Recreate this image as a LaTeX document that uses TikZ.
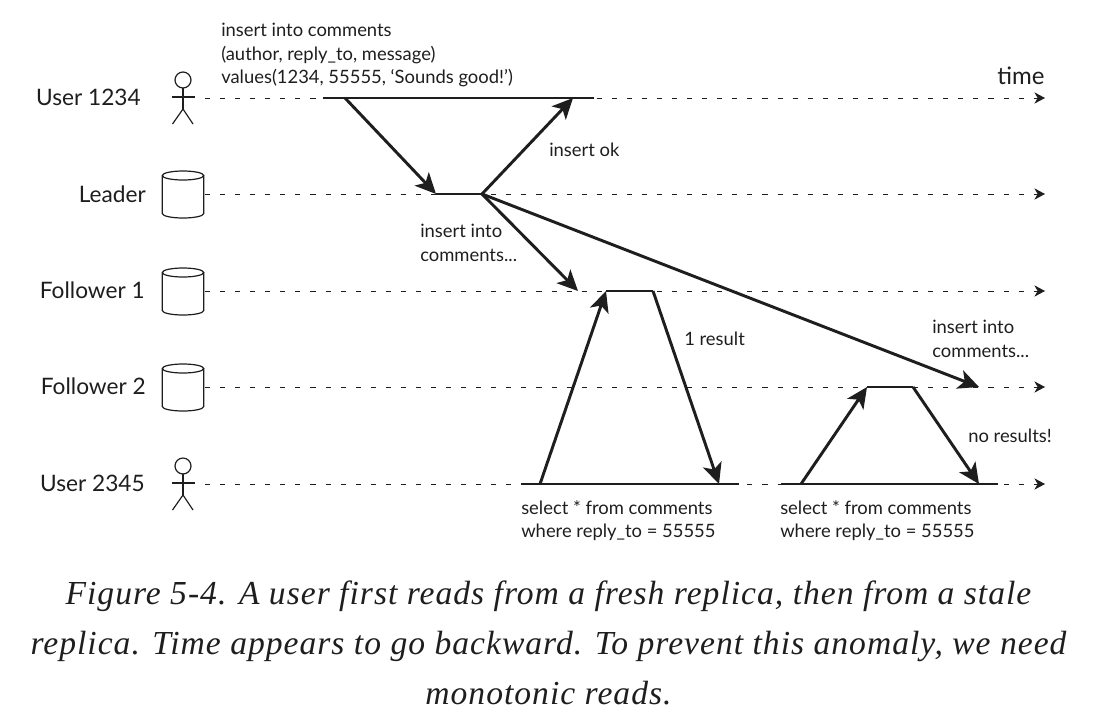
\documentclass[tikz,border=0pt]{standalone}
\usepackage{fontspec}
\setmainfont{Lato}
\newfontfamily\captionfont{Liberation Serif}[LetterSpace=3]
\usetikzlibrary{arrows.meta}
\definecolor{inkBlack}{HTML}{1E1E1E}

\begin{document}
\begin{tikzpicture}[
  x=0.75pt, y=-0.75pt,
  color=inkBlack,
  rowLabel/.style={anchor=east, inner sep=0pt, font=\fontsize{17}{20}\selectfont},
  noteText/.style={anchor=north west, align=left, inner sep=0pt, font=\fontsize{13.8}{17.5}\selectfont},
  timeLine/.style={line width=0.7pt, dash pattern=on 3.8pt off 7.5pt, -{Stealth[length=8pt,width=8.5pt,inset=2.5pt]}},
  busyBar/.style={line width=2.2pt},
  msgArrow/.style={line width=2.2pt, -{Stealth[length=15.5pt,width=14.5pt,inset=4pt]}},
  stickMan/.pic={
    \draw[line width=0.9pt] (0,-18) circle [radius=8];
    \draw[line width=0.9pt] (0,-10) -- (0,11) (-11.5,-1) -- (11.5,-1);
    \draw[line width=0.9pt] (-10.5,26) -- (0,11) -- (10,26);
  },
  dbCylinder/.pic={
    \draw[line width=0.9pt] (-20.75,-18.5) arc [start angle=180, end angle=-180, x radius=20.75, y radius=4.5]
      -- (-20.75,19.5) arc [start angle=180, end angle=360, x radius=20.75, y radius=-4.5]
      -- (20.75,-18.5);
  }
]
\useasboundingbox (0,0) rectangle (1112,722);

% rows
\node[rowLabel] (labelUserA) at (141,97) {User 1234};
\node[rowLabel] (labelLeader) at (146,194) {Leader};
\node[rowLabel] (labelFollowerA) at (145,290) {Follower 1};
\node[rowLabel] (labelFollowerB) at (146,386) {Follower 2};
\node[rowLabel] (labelUserB) at (145,483) {User 2345};

\pic at (183,98) {stickMan};
\pic at (183,484) {stickMan};
\pic at (183,194) {dbCylinder};
\pic at (183,291) {dbCylinder};
\pic at (183,387) {dbCylinder};

\foreach \rowName/\rowY in {userA/98, lead/194, follA/291, follB/387, userB/484} {
  \coordinate (\rowName Start) at (205,\rowY);
  \coordinate (\rowName End) at (1045,\rowY);
  \draw[timeLine] (\rowName Start) -- (\rowName End);
}

% busy bars
\coordinate (writeStart) at (323,98);
\coordinate (writeEnd) at (594,98);
\coordinate (writeSend) at (345,98);
\coordinate (writeAck) at (573,98);
\coordinate (leadIn) at (436,194);
\coordinate (leadOut) at (482,194);
\coordinate (follAIn) at (606,291);
\coordinate (follAOut) at (653,291);
\coordinate (follALate) at (578,291);
\coordinate (follBIn) at (867,387);
\coordinate (follBOut) at (913,387);
\coordinate (follBLate) at (979,387);
\coordinate (readOneStart) at (521,484);
\coordinate (readOneEnd) at (739,484);
\coordinate (readOneSend) at (540,484);
\coordinate (readOneBack) at (719,484);
\coordinate (readTwoStart) at (781,484);
\coordinate (readTwoEnd) at (998,484);
\coordinate (readTwoSend) at (801,484);
\coordinate (readTwoBack) at (979,484);

\draw[busyBar] (writeStart) -- (writeEnd);
\draw[busyBar] (leadIn) -- (leadOut);
\draw[busyBar] (follAIn) -- (follAOut);
\draw[busyBar] (follBIn) -- (follBOut);
\draw[busyBar] (readOneStart) -- (readOneEnd);
\draw[busyBar] (readTwoStart) -- (readTwoEnd);

% messages
\draw[msgArrow] (writeSend) -- (leadIn);
\draw[msgArrow] (leadOut) -- (writeAck);
\draw[msgArrow] (leadOut) -- (follALate);
\draw[msgArrow] (leadOut) -- (follBLate);
\draw[msgArrow] (readOneSend) -- (follAIn);
\draw[msgArrow] (follAOut) -- (readOneBack);
\draw[msgArrow] (readTwoSend) -- (follBIn);
\draw[msgArrow] (follBOut) -- (readTwoBack);

% notes
\node[noteText] (noteWrite) at (221,23) {insert into comments\\(author, reply\_to, message)\\values(1234, 55555, ‘Sounds good!’)};
\node[anchor=south, inner sep=0pt, font=\fontsize{18}{22}\selectfont] (noteTime) at (1021,85) {time};
\node[noteText] (noteOk) at (549,143) {insert ok};
\node[noteText] (noteCopyA) at (420,224) {insert into\\comments...};
\node[noteText] (noteResult) at (684,332) {1 result};
\node[noteText] (noteCopyB) at (932,320) {insert into\\comments...};
\node[noteText] (noteEmpty) at (968,429) {no results!};
\node[noteText] (noteReadA) at (521,500) {select * from comments\\where reply\_to = 55555};
\node[noteText] (noteReadB) at (780,500) {select * from comments\\where reply\_to = 55555};

\node[anchor=north, align=center, inner sep=0pt, font=\captionfont\itshape\fontsize{25.2}{37.5}\selectfont] (caption) at (548.5,581)
  {Figure 5-4. A user first reads from a fresh replica, then from a stale\\replica. Time appears to go backward. To prevent this anomaly, we need\\monotonic reads.};
\end{tikzpicture}
\end{document}
